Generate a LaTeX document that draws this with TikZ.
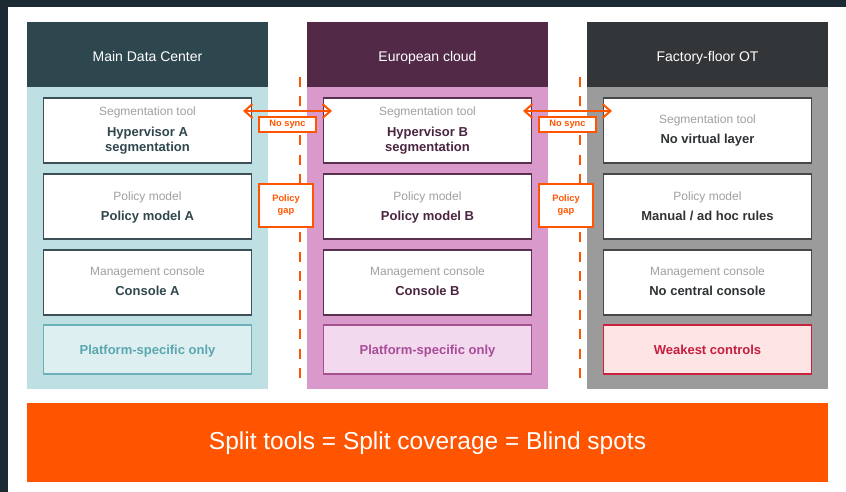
\documentclass[tikz,border=0pt]{standalone}
\usepackage{fontspec}
\setmainfont{Liberation Sans}
\usetikzlibrary{arrows.meta}
\definecolor{darkbg}{HTML}{1B2A33}
\definecolor{orng}{HTML}{FF5500}
\definecolor{subgrey}{HTML}{A0A0A0}
\definecolor{cAhead}{HTML}{2E474E}
\definecolor{cAbody}{HTML}{BFE0E3}
\definecolor{cAline}{HTML}{3B5157}
\definecolor{cAtext}{HTML}{2F474D}
\definecolor{cAsoftfill}{HTML}{DDEFF1}
\definecolor{cAsoftline}{HTML}{6BB1B8}
\definecolor{cAsofttext}{HTML}{5AA7AF}
\definecolor{cBhead}{HTML}{522A47}
\definecolor{cBbody}{HTML}{D99ACB}
\definecolor{cBline}{HTML}{5A3050}
\definecolor{cBtext}{HTML}{4A2541}
\definecolor{cBsoftfill}{HTML}{F3D9EE}
\definecolor{cBsoftline}{HTML}{A5518F}
\definecolor{cBsofttext}{HTML}{A84C98}
\definecolor{cChead}{HTML}{323638}
\definecolor{cCbody}{HTML}{9B9B9B}
\definecolor{cCline}{HTML}{45494B}
\definecolor{cCtext}{HTML}{303335}
\definecolor{cCsoftfill}{HTML}{FDE4E5}
\definecolor{cCsoftline}{HTML}{C8223F}
\definecolor{cCsofttext}{HTML}{C61E3E}
\tikzset{
  every node/.style={inner sep=0pt, outer sep=0pt},
  headbox/.style={minimum width=241, minimum height=65},
  bodybox/.style={minimum width=241, minimum height=302},
  itembox/.style={fill=white, line width=1.3pt, minimum width=208, minimum height=65},
  softbox/.style={line width=1.3pt, minimum width=208, minimum height=49},
  headtext/.style={anchor=base, text=white, font=\fontsize{14}{16}\selectfont},
  subtext/.style={anchor=base, text=subgrey, font=\fontsize{12}{14}\selectfont},
  maintext/.style={anchor=base, font=\bfseries\fontsize{13}{15}\selectfont},
  softtext/.style={anchor=base, font=\bfseries\fontsize{13}{15}\selectfont},
  gaplabel/.style={fill=white, draw=orng, line width=1.5pt, text=orng, font=\bfseries\fontsize{9.3}{12}\selectfont, align=center},
  syncarrow/.style={draw=orng, line width=2pt, {Straight Barb[length=8pt,width=14pt,line width=2pt]}-{Straight Barb[length=8pt,width=14pt,line width=2pt]}},
  divider/.style={draw=orng, line width=2pt, dash pattern=on 10pt off 9.4pt}
}
\begin{document}
\begin{tikzpicture}[x=1pt,y=-1pt]
\useasboundingbox (0,0) rectangle (846,492);
\fill[white] (0,0) rectangle (846,492);
\fill[darkbg] (0,0) rectangle (846,7);
\fill[darkbg] (0,0) rectangle (8,492);

% dashed dividers
\coordinate (d1t) at (300,77);
\coordinate (d1b) at (300,380);
\coordinate (d2t) at (580,77);
\coordinate (d2b) at (580,380);
\draw[divider] (d1t) -- (d1b);
\draw[divider] (d2t) -- (d2b);

% ---------- column A ----------
\node[headbox, fill=cAhead] (hA) at (147.5,54.5) {};
\node[bodybox, fill=cAbody] (bA) at (147.5,238) {};
\node[headtext] (hAt) at (147.5,62) {Main Data Center};
\node[itembox, draw=cAline] (A1) at (147.5,130.5) {};
\node[subtext] (A1s) at (147.5,116) {Segmentation tool};
\node[maintext, text=cAtext] (A1m) at (147.5,137) {Hypervisor A};
\node[maintext, text=cAtext] (A1n) at (147.5,151) {segmentation};
\node[itembox, draw=cAline] (A2) at (147.5,206.5) {};
\node[subtext] (A2s) at (147.5,200) {Policy model};
\node[maintext, text=cAtext] (A2m) at (147.5,220) {Policy model A};
\node[itembox, draw=cAline] (A3) at (147.5,282.5) {};
\node[subtext] (A3s) at (147.5,275.5) {Management console};
\node[maintext, text=cAtext] (A3m) at (147.5,295.5) {Console A};
\node[softbox, fill=cAsoftfill, draw=cAsoftline] (A4) at (147.5,349.5) {};
\node[softtext, text=cAsofttext] (A4t) at (147.5,354) {Platform-specific only};

% ---------- column B ----------
\node[headbox, fill=cBhead] (hB) at (427.5,54.5) {};
\node[bodybox, fill=cBbody] (bB) at (427.5,238) {};
\node[headtext] (hBt) at (427.5,62) {European cloud};
\node[itembox, draw=cBline] (B1) at (427.5,130.5) {};
\node[subtext] (B1s) at (427.5,116) {Segmentation tool};
\node[maintext, text=cBtext] (B1m) at (427.5,137) {Hypervisor B};
\node[maintext, text=cBtext] (B1n) at (427.5,151) {segmentation};
\node[itembox, draw=cBline] (B2) at (427.5,206.5) {};
\node[subtext] (B2s) at (427.5,200) {Policy model};
\node[maintext, text=cBtext] (B2m) at (427.5,220) {Policy model B};
\node[itembox, draw=cBline] (B3) at (427.5,282.5) {};
\node[subtext] (B3s) at (427.5,275.5) {Management console};
\node[maintext, text=cBtext] (B3m) at (427.5,295.5) {Console B};
\node[softbox, fill=cBsoftfill, draw=cBsoftline] (B4) at (427.5,349.5) {};
\node[softtext, text=cBsofttext] (B4t) at (427.5,354) {Platform-specific only};

% ---------- column C ----------
\node[headbox, fill=cChead] (hC) at (707.5,54.5) {};
\node[bodybox, fill=cCbody] (bC) at (707.5,238) {};
\node[headtext] (hCt) at (707.5,62) {Factory-floor OT};
\node[itembox, draw=cCline] (C1) at (707.5,130.5) {};
\node[subtext] (C1s) at (707.5,124) {Segmentation tool};
\node[maintext, text=cCtext] (C1m) at (707.5,144) {No virtual layer};
\node[itembox, draw=cCline] (C2) at (707.5,206.5) {};
\node[subtext] (C2s) at (707.5,200) {Policy model};
\node[maintext, text=cCtext] (C2m) at (707.5,220) {Manual / ad hoc rules};
\node[itembox, draw=cCline] (C3) at (707.5,282.5) {};
\node[subtext] (C3s) at (707.5,275.5) {Management console};
\node[maintext, text=cCtext] (C3m) at (707.5,295.5) {No central console};
\node[softbox, fill=cCsoftfill, draw=cCsoftline] (C4) at (707.5,349.5) {};
\node[softtext, text=cCsofttext] (C4t) at (707.5,354) {Weakest controls};

% ---------- gaps ----------
\coordinate (s1l) at (243,111);
\coordinate (s1r) at (332,111);
\coordinate (s2l) at (523,111);
\coordinate (s2r) at (612,111);
\draw[syncarrow] (s1l) -- (s1r);
\draw[syncarrow] (s2l) -- (s2r);
\node[gaplabel, minimum width=57, minimum height=15] (ns1) at (287.5,124.5) {No sync};
\node[gaplabel, minimum width=57, minimum height=15] (ns2) at (567.5,124.5) {No sync};
\node[gaplabel, minimum width=54, minimum height=43] (pg1) at (286,205.5) {Policy\\gap};
\node[gaplabel, minimum width=54, minimum height=43] (pg2) at (566,205.5) {Policy\\gap};

% ---------- bottom bar ----------
\node[fill=orng, minimum width=801, minimum height=79] (bar) at (427.5,442.5) {};
\node[anchor=base, text=white, font=\fontsize{24.5}{28}\selectfont] (bart) at (427.5,449) {Split tools = Split coverage = Blind spots};
\end{tikzpicture}
\end{document}
